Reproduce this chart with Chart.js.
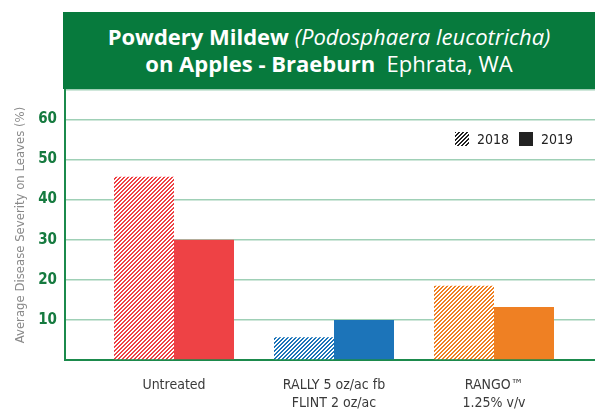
<!DOCTYPE html>
<html>
<head>
<meta charset="utf-8">
<script src="https://cdn.jsdelivr.net/npm/chart.js@4.4.1/dist/chart.umd.min.js"></script>
<style>
  html, body { margin:0; padding:0; background:#fff; }
  #wrap { position:relative; width:595px; height:414px; overflow:hidden; }
  #chartBox { position:absolute; left:0; top:0; width:595px; height:414px; }
  #head { position:absolute; left:63px; top:12px; width:532px; height:77px; background:#077a3d;
    color:#fff; text-align:center; font-family:'Open Sans', Lato, sans-serif; font-size:22px; line-height:27px;
    box-sizing:border-box; padding-top:11px; }
  #head b { font-weight:700; }
  #head i { font-weight:400; }
  #legend { position:absolute; top:131px; left:455px; height:16px; display:flex; align-items:center;
    font-family:'Liberation Sans Narrow','DejaVu Sans Condensed',sans-serif; font-size:14px; color:#222; }
  #legend .sw { width:14px; height:14px; margin-right:8px; }
  #legend .txt { margin-right:10px; }
</style>
</head>
<body>
<div id="wrap">
  <div id="chartBox"><canvas id="c"></canvas></div>
  <div id="head"><b>Powdery Mildew</b> <i>(Podosphaera leucotricha)</i><br><b>on Apples - Braeburn</b>&nbsp; Ephrata, WA</div>
  <div id="legend"></div>
</div>
<script>
// data
const categories = [['Untreated'], ['RALLY 5 oz/ac fb', 'FLINT 2 oz/ac'], ['RANGO™', '1.25% v/v']];
const seriesNames = ['2018', '2019'];
const values2018 = [45.7, 5.7, 18.5];
const values2019 = [30, 10, 13.2];
const yMax = 67.3, yStep = 10;

const barColors = ['#ee4245', '#1c74b9', '#ef8023'];
const narrow = "'Liberation Sans Narrow', 'DejaVu Sans Condensed', sans-serif";

// diagonal "////" hatch, 4px period
function hatch(color){
  const cv = document.createElement('canvas'); cv.width = 4; cv.height = 4;
  const g = cv.getContext('2d');
  g.fillStyle = '#fff'; g.fillRect(0,0,4,4);
  g.fillStyle = color;
  for (let x=0;x<4;x++) for (let y=0;y<4;y++) if ((x+y)%4 < 2) g.fillRect(x,y,1,1);
  return g.createPattern(cv,'repeat');
}

// legend (html)
const lg = document.getElementById('legend');
seriesNames.forEach((n,i) => {
  const sw = document.createElement('span'); sw.className = 'sw';
  sw.style.background = i===0 ? 'repeating-linear-gradient(135deg,#222 0 1.4px,#fff 1.4px 2.8px)' : '#222';
  const t = document.createElement('span'); t.className = 'txt'; t.textContent = n;
  lg.appendChild(sw); lg.appendChild(t);
});

// category i sits at x = i+1 on a linear scale so the plot can run wider than the groups
const xMin = 0.31875, xMax = 3.63125;
const toXY = arr => arr.map((v,i) => ({x:i+1, y:v}));

new Chart(document.getElementById('c'), {
  type:'bar',
  data:{ datasets:[
    { label:seriesNames[0], data:toXY(values2018), backgroundColor:barColors.map(hatch), borderWidth:0 },
    { label:seriesNames[1], data:toXY(values2019), backgroundColor:barColors, borderWidth:0 }
  ]},
  options:{
    responsive:true, maintainAspectRatio:false, animation:false,
    layout:{ padding:{ top:90, left:0, right:0, bottom:0 } },
    datasets:{ bar:{ barPercentage:1, categoryPercentage:0.75 } },
    plugins:{ legend:{display:false}, tooltip:{enabled:false} },
    scales:{
      x:{ type:'linear', min:xMin, max:xMax, offset:false,
        grid:{ display:false, drawTicks:false, offset:false },
        border:{ display:true, color:'#1b8a4c', width:2 },
        afterFit: s => { s.height = 54; },
        ticks:{ stepSize:1, includeBounds:false, autoSkip:false, maxRotation:0, padding:16,
          color:'#3a3a3a', font:{ family:narrow, size:14, lineHeight:1.29 },
          callback: v => Number.isInteger(v) && categories[v-1] ? categories[v-1] : '' } },
      y:{ min:0, max:yMax,
        grid:{ color: c => c.tick.value === 0 ? 'rgba(0,0,0,0)' : '#9fd0b6', lineWidth:1.5, drawTicks:false },
        border:{ display:true, color:'#1b8a4c', width:2 },
        afterFit: s => { s.width = 65; },
        title:{ display:true, text:'Average Disease Severity on Leaves (%)', color:'#8a8a8a',
          font:{ family:narrow, size:13 }, padding:{ top:13, bottom:0 } },
        ticks:{ stepSize:yStep, includeBounds:true, padding:8, color:'#157a3f',
          font:{ family:narrow, size:15, weight:'bold' },
          callback: v => (v > 0 && v % yStep === 0) ? v : '' } }
    }
  }
});
</script>
</body>
</html>
